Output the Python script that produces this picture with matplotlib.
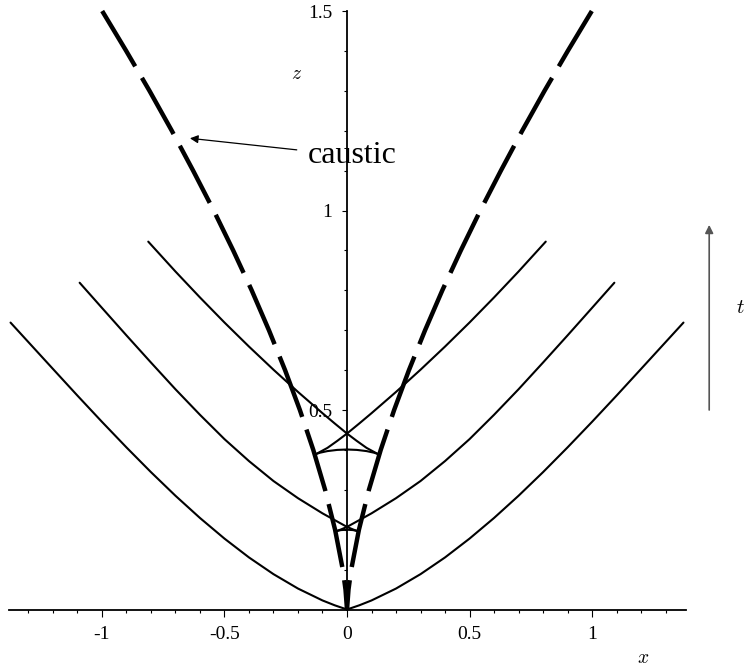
import matplotlib

matplotlib.use("Agg")
import matplotlib.pyplot as plt
import numpy as np

plt.rcParams["font.family"] = ["Liberation Serif", "DejaVu Serif"]
plt.rcParams["mathtext.fontset"] = "cm"
plt.rcParams["axes.unicode_minus"] = False

# wavefronts, right half only (x >= 0); the left half is the mirror image
front0_x = [0.0, 0.05, 0.1, 0.2, 0.3, 0.4, 0.5, 0.6, 0.7, 0.8, 0.9, 1.0, 1.1, 1.2, 1.3, 1.373]
front0_z = [0.0, 0.0105, 0.0227, 0.0525, 0.0886, 0.1305, 0.1777, 0.2294, 0.2851,
            0.3443, 0.4063, 0.4704, 0.5361, 0.6030, 0.6701, 0.7191]

front1_x = [0.0, 0.05, 0.1, 0.2, 0.3, 0.4, 0.5, 0.6, 0.7, 0.8, 0.9, 1.0, 1.091]
front1_z = [0.207, 0.224, 0.241, 0.279, 0.322, 0.372, 0.427, 0.488, 0.552,
            0.619, 0.687, 0.756, 0.819]
front1_tail_x = [0.0, 0.025, 0.046]
front1_tail_z = [0.207, 0.2005, 0.196]
front1_arc_x = [0.0, 0.025, 0.046]
front1_arc_z = [0.200, 0.199, 0.196]

front2_x = [0.0, 0.05, 0.1, 0.2, 0.3, 0.4, 0.5, 0.6, 0.7, 0.811]
front2_z = [0.441, 0.4662, 0.492, 0.5453, 0.601, 0.659, 0.7193, 0.7821, 0.8471, 0.922]
front2_tail_x = [0.0, 0.04, 0.08, 0.125]
front2_tail_z = [0.441, 0.4225, 0.405, 0.390]
front2_arc_x = [0.0, 0.04, 0.08, 0.11, 0.125]
front2_arc_z = [0.401, 0.400, 0.397, 0.393, 0.390]

# caustic, listed from the top down
caustic_z = [1.5, 1.4, 1.3, 1.2, 1.1, 1.0, 0.9, 0.8, 0.7, 0.6, 0.5, 0.4, 0.3,
             0.2, 0.1, 0.05, 0.0]
caustic_x = [0.999, 0.901, 0.806, 0.715, 0.628, 0.544, 0.4645, 0.389, 0.3186,
             0.2528, 0.1923, 0.1376, 0.0894, 0.0487, 0.0172, 0.0061, 0.0]

x_major = [-1, -0.5, 0, 0.5, 1]
x_labels = ["-1", "-0.5", "0", "0.5", "1"]
x_minor = [-1.3, -1.2, -1.1, -0.9, -0.8, -0.7, -0.6, -0.4, -0.3, -0.2, -0.1,
           0.1, 0.2, 0.3, 0.4, 0.6, 0.7, 0.8, 0.9, 1.1, 1.2, 1.3]
z_major = [0.5, 1, 1.5]
z_labels = ["0.5", "1", "1.5"]
z_minor = [0.1, 0.2, 0.3, 0.4, 0.6, 0.7, 0.8, 0.9, 1.1, 1.2, 1.3, 1.4]

fig = plt.figure(figsize=(7.44, 6.66), dpi=100)
ax = fig.add_axes([0, 0, 1, 1])
ax.set_xlim(-1.416, 1.620)
ax.set_ylim(-0.1416, 1.5276)

front_style = dict(color="black", lw=1.5, solid_capstyle="round", solid_joinstyle="round")
for s in (-1, 1):
    for xs, zs in [(front0_x, front0_z),
                   (front1_x, front1_z), (front1_tail_x, front1_tail_z), (front1_arc_x, front1_arc_z),
                   (front2_x, front2_z), (front2_tail_x, front2_tail_z), (front2_arc_x, front2_arc_z)]:
        ax.plot(s * np.array(xs), zs, **front_style)
    ax.plot(s * np.array(caustic_x), caustic_z, color="black", lw=3.2,
            dashes=(14.5, 3.0), dash_capstyle="butt", dash_joinstyle="round")

# axes crossing at the origin
for side in ("top", "right"):
    ax.spines[side].set_visible(False)
ax.spines["left"].set_position(("data", 0))
ax.spines["bottom"].set_position(("data", 0))
ax.spines["left"].set_bounds(0, 1.5)
ax.spines["bottom"].set_bounds(-1.38, 1.385)
for side in ("left", "bottom"):
    ax.spines[side].set_linewidth(1.3)

ax.set_xticks(x_major)
ax.set_xticklabels(x_labels)
ax.set_xticks(x_minor, minor=True)
ax.set_yticks(z_major)
ax.set_yticklabels(z_labels)
ax.set_yticks(z_minor, minor=True)
ax.tick_params(axis="x", which="major", direction="out", length=5, width=0.8, pad=7, labelsize=14)
ax.tick_params(axis="x", which="minor", direction="out", length=2.2, width=0.8)
ax.tick_params(axis="y", which="major", direction="out", length=3.6, width=0.8, pad=7, labelsize=14)
ax.tick_params(axis="y", which="minor", direction="out", length=2.2, width=0.8)

ax.text(1.208, -0.124, "$x$", fontsize=14, ha="center", va="center")
ax.text(-0.205, 1.342, "$z$", fontsize=14, ha="center", va="center")
ax.text(1.604, 0.755, "$t$", fontsize=15, ha="center", va="center", clip_on=False)

ax.text(-0.159, 1.119, "caustic", fontsize=23, ha="left", va="baseline")
ax.annotate("", xy=(-0.641, 1.181), xytext=(-0.205, 1.152),
            arrowprops=dict(arrowstyle="-|>", color="black", lw=0.9,
                            mutation_scale=12, shrinkA=0, shrinkB=0))
ax.annotate("", xy=(1.478, 0.964), xytext=(1.478, 0.5),
            arrowprops=dict(arrowstyle="-|>", color="#555555", lw=1.2,
                            mutation_scale=12, shrinkA=0, shrinkB=0))

fig.savefig("out.png", dpi=100)
